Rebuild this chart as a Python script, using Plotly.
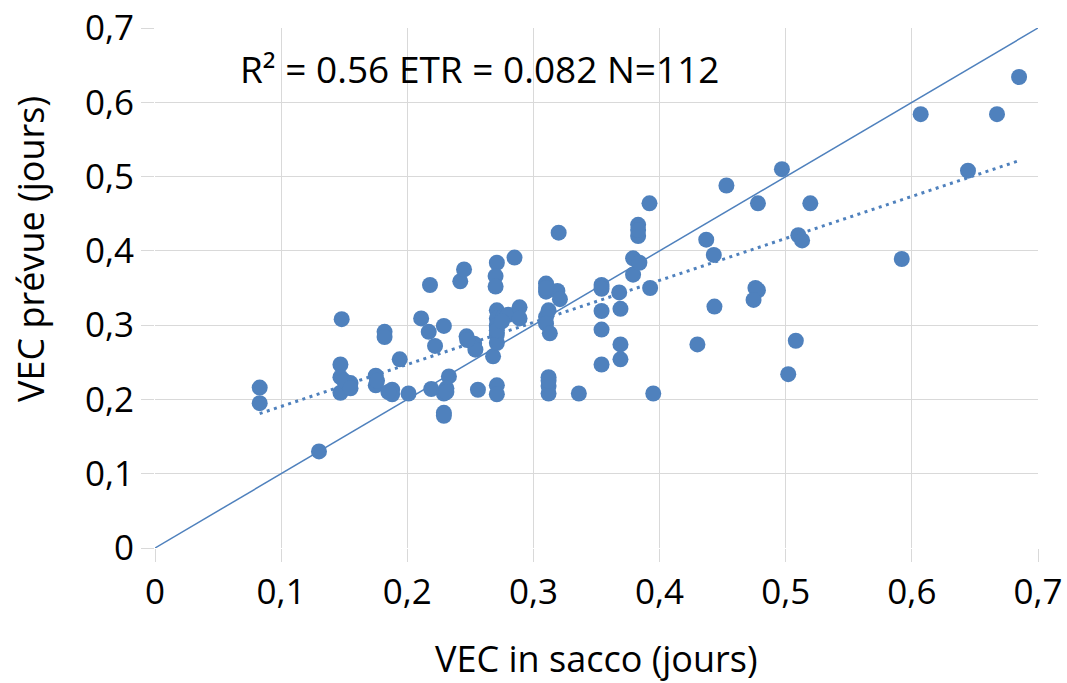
import numpy as np
import plotly.graph_objects as go

vec_in_sacco = [
    0.083, 0.083, 0.130, 0.148, 0.147, 0.147, 0.152, 0.147, 0.155, 0.175,
    0.175, 0.182, 0.182, 0.194, 0.188, 0.188, 0.201, 0.211, 0.218, 0.217,
    0.222, 0.219, 0.229, 0.233, 0.231, 0.229, 0.229, 0.229, 0.242, 0.245,
    0.247, 0.253, 0.254, 0.256, 0.268, 0.271, 0.270, 0.270, 0.271, 0.271,
    0.271, 0.271, 0.271, 0.271, 0.271, 0.276, 0.280, 0.285, 0.289, 0.289,
    0.310, 0.310, 0.319, 0.321, 0.312, 0.310, 0.310, 0.313, 0.312, 0.312,
    0.312, 0.320, 0.336, 0.354, 0.354, 0.354, 0.354, 0.354, 0.368, 0.369,
    0.369, 0.369, 0.379, 0.379, 0.384, 0.383, 0.383, 0.392, 0.3925, 0.395,
    0.430, 0.437, 0.443, 0.4435, 0.453, 0.478, 0.497, 0.476, 0.478, 0.4745,
    0.502, 0.508, 0.510, 0.513, 0.5195, 0.592, 0.607, 0.6445, 0.6675, 0.685,
    0.271, 0.271, 0.150, 0.185, 0.310, 0.231, 0.275, 0.383, 0.312, 0.2475,
    0.176, 0.155,
]
vec_prevue = [
    0.216, 0.195, 0.130, 0.308, 0.247, 0.230, 0.219, 0.209, 0.222, 0.232,
    0.219, 0.291, 0.284, 0.254, 0.213, 0.207, 0.208, 0.309, 0.354, 0.291,
    0.272, 0.214, 0.299, 0.231, 0.215, 0.208, 0.182, 0.178, 0.359, 0.375,
    0.285, 0.275, 0.267, 0.213, 0.258, 0.384, 0.366, 0.352, 0.320, 0.309,
    0.298, 0.287, 0.276, 0.219, 0.207, 0.311, 0.314, 0.391, 0.324, 0.309,
    0.356, 0.345, 0.346, 0.335, 0.320, 0.311, 0.302, 0.289, 0.230, 0.218,
    0.208, 0.4245, 0.208, 0.354, 0.349, 0.319, 0.294, 0.247, 0.344, 0.322,
    0.274, 0.254, 0.390, 0.368, 0.384, 0.435, 0.420, 0.464, 0.350, 0.208,
    0.274, 0.415, 0.3945, 0.325, 0.488, 0.464, 0.510, 0.350, 0.347, 0.334,
    0.234, 0.279, 0.421, 0.414, 0.464, 0.389, 0.584, 0.508, 0.584, 0.634,
    0.300, 0.293, 0.225, 0.210, 0.350, 0.210, 0.305, 0.428, 0.225, 0.280,
    0.225, 0.215,
]
identity_line = [0, 0.7]
x_ticks = [0, 0.1, 0.2, 0.3, 0.4, 0.5, 0.6, 0.7]
x_tick_labels = ["0", "0,1", "0,2", "0,3", "0,4", "0,5", "0,6", "0,7"]
y_tick_labels = x_tick_labels
x_title = "VEC in sacco (jours)"
y_title = "VEC prévue (jours)"
stats_text = "R² = 0.56 ETR = 0.082 N=112"

BLUE = "#4F81BD"
GRID = "#D9D9D9"
FONT = "Open Sans"

xs = np.array(vec_in_sacco)
ys = np.array(vec_prevue)
slope, intercept = np.polyfit(xs, ys, 1)
trend_x = np.array([xs.min(), xs.max()])
trend_y = slope * trend_x + intercept

fig = go.Figure()
fig.add_trace(go.Scatter(
    x=identity_line, y=identity_line, mode="lines",
    line=dict(color=BLUE, width=1.5), hoverinfo="skip", showlegend=False,
))
fig.add_trace(go.Scatter(
    x=trend_x, y=trend_y, mode="lines",
    line=dict(color=BLUE, width=3, dash="3px,4.5px"), hoverinfo="skip",
    showlegend=False,
))
fig.add_trace(go.Scatter(
    x=vec_in_sacco, y=vec_prevue, mode="markers",
    marker=dict(color=BLUE, size=16, line=dict(width=0)), showlegend=False,
))

axis_common = dict(
    range=[0, 0.7], tickvals=x_ticks, showgrid=True, gridcolor=GRID,
    gridwidth=1.4, zeroline=False, showline=False, ticks="outside",
    ticklen=13, tickcolor=GRID, tickwidth=1.4, automargin=False,
    tickfont=dict(family=FONT, size=35, color="black"),
)
fig.update_xaxes(**axis_common, ticktext=x_tick_labels)
fig.update_yaxes(**axis_common, ticktext=y_tick_labels)

fig.add_annotation(
    x=0.5, y=-0.212, xref="paper", yref="paper", text=x_title,
    showarrow=False, xanchor="center", yanchor="middle",
    font=dict(family=FONT, size=36, color="black"),
)
fig.add_annotation(
    x=-0.1416, y=0.575, xref="paper", yref="paper", text=y_title,
    showarrow=False, xanchor="center", yanchor="middle", textangle=-90,
    font=dict(family=FONT, size=36, color="black"),
)
fig.add_annotation(
    x=0.368, y=0.923, xref="paper", yref="paper", text=stats_text,
    showarrow=False, xanchor="center", yanchor="middle",
    font=dict(family=FONT, size=37, color="black"),
)
fig.update_layout(
    width=1067, height=683, autosize=False,
    margin=dict(l=155, r=29, t=28, b=135),
    plot_bgcolor="white", paper_bgcolor="white",
    font=dict(family=FONT, color="black"),
)
fig.write_html("out.html")
